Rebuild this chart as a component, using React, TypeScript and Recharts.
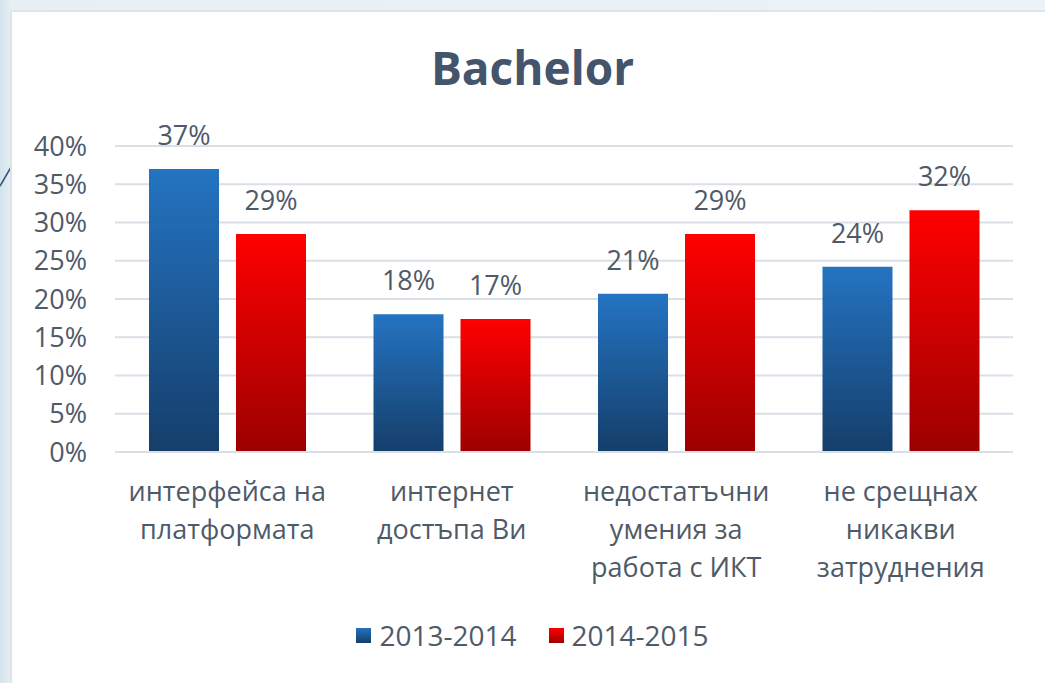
import React from 'react';
import { BarChart, Bar, XAxis, YAxis, CartesianGrid, LabelList } from 'recharts';

const categories = ['интерфейса на|платформата', 'интернет|достъпа Ви', 'недостатъчни|умения за|работа с ИКТ', 'не срещнах|никакви|затруднения'];
const series2013 = [37.0, 18.0, 20.7, 24.2];
const series2014 = [28.5, 17.4, 28.5, 31.6];
const yTicks = [0, 5, 10, 15, 20, 25, 30, 35, 40];

const data = categories.map((name, i) => ({
  name,
  y2013: series2013[i],
  y2014: series2014[i],
}));

const textColor = '#4f5a69';
const font = '"Open Sans", "Noto Sans", sans-serif';

const CategoryTick = (props: any) => {
  const { x, y, payload } = props;
  const lines = String(payload.value).split('|');
  return (
    <text x={x} y={y + 41} textAnchor="middle" fill={textColor} fontSize={27} fontFamily={font}>
      {lines.map((l, i) => (
        <tspan key={i} x={x} dy={i === 0 ? 0 : 38}>{l}</tspan>
      ))}
    </text>
  );
};

export default function App() {
  return (
    <div style={{ position: 'absolute', left: 0, top: 0, width: 1045, height: 683, overflow: 'hidden', background: 'linear-gradient(90deg, #d3e3ec 0px, #e8eff4 12px, #edf2f6 100%)' }}>
      <svg style={{ position: 'absolute', left: 0, top: 0 }} width={20} height={200}>
        <line x1={0} y1={186} x2={14} y2={162} stroke="#2f5375" strokeWidth={1.5} />
      </svg>
      <div style={{ position: 'absolute', left: 10, top: 10, width: 1035, height: 673, background: '#ffffff', borderLeft: '2px solid #dde4ea', borderTop: '2px solid #dde4ea' }} />
      <div style={{ position: 'absolute', left: 0, top: 0 }}>
        <BarChart width={1045} height={683} data={data} margin={{ top: 146, right: 32, left: 35, bottom: 81 }} barSize={70} barGap={17}>
          <defs>
            <linearGradient id="gBlue" x1="0" y1="0" x2="0" y2="1">
              <stop offset="0%" stopColor="#2474c2" />
              <stop offset="100%" stopColor="#153e6a" />
            </linearGradient>
            <linearGradient id="gRed" x1="0" y1="0" x2="0" y2="1">
              <stop offset="0%" stopColor="#ff0000" />
              <stop offset="100%" stopColor="#9c0000" />
            </linearGradient>
          </defs>
          <CartesianGrid vertical={false} stroke="#d9dfe7" strokeWidth={2} />
          <XAxis dataKey="name" axisLine={{ stroke: '#d9dfe7', strokeWidth: 2 }} tickLine={false} tick={<CategoryTick />} height={150} interval={0} />
          <YAxis domain={[0, 40]} ticks={yTicks} interval={0} width={80} axisLine={false} tickLine={false} tickSize={0} tickMargin={28}
            tickFormatter={(v: number) => `${v}%`} tick={{ fill: textColor, fontSize: 27, fontFamily: font }} />
          <Bar dataKey="y2013" name="2013-2014" fill="url(#gBlue)" isAnimationActive={false}>
            <LabelList dataKey="y2013" position="top" offset={24} formatter={(v: any) => `${Math.round(v)}%`} fill={textColor} fontSize={27} fontFamily={font} />
          </Bar>
          <Bar dataKey="y2014" name="2014-2015" fill="url(#gRed)" isAnimationActive={false}>
            <LabelList dataKey="y2014" position="top" offset={24} formatter={(v: any) => `${Math.round(v)}%`} fill={textColor} fontSize={27} fontFamily={font} />
          </Bar>
        </BarChart>
      </div>
      <div style={{ position: 'absolute', left: 0, top: 36, width: 1065, textAlign: 'center', fontFamily: font, fontWeight: 700, fontSize: 46, color: '#44546a' }}>
        Bachelor
      </div>
      <div style={{ position: 'absolute', left: 0, top: 616, width: 1065, display: 'flex', justifyContent: 'center', gap: 32, fontFamily: font, fontSize: 28, color: textColor }}>
        <span style={{ display: 'flex', alignItems: 'center' }}>
          <span style={{ width: 15, height: 15, marginRight: 8, background: 'linear-gradient(#2372bf, #153f6b)' }} />
          2013-2014
        </span>
        <span style={{ display: 'flex', alignItems: 'center' }}>
          <span style={{ width: 15, height: 15, marginRight: 8, background: 'linear-gradient(#ff0000, #a00000)' }} />
          2014-2015
        </span>
      </div>
    </div>
  );
}
